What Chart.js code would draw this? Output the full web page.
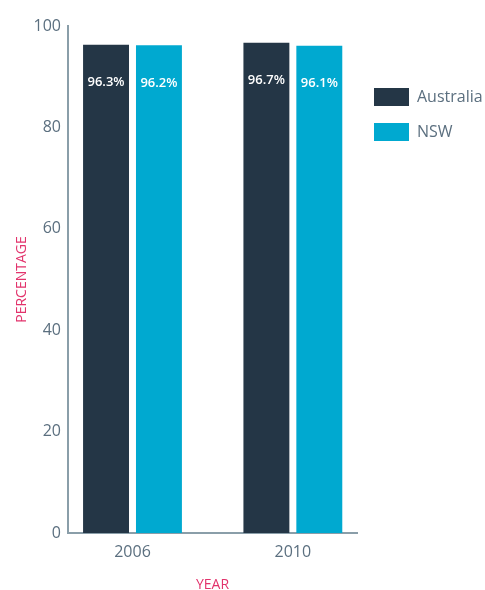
<!DOCTYPE html>
<html>
<head>
<meta charset="utf-8">
<script src="https://cdn.jsdelivr.net/npm/chart.js@4.4.1/dist/chart.umd.min.js"></script>
<style>
  html, body { margin: 0; padding: 0; background: #fff; }
</style>
</head>
<body>
<canvas id="chart" width="485" height="590"></canvas>
<script>
// ------------------------------------
// DATA
// ------------------------------------
const years = [2006, 2010];
const australia = [96.3, 96.7];
const nsw = [96.2, 96.1];
const seriesNames = ["Australia", "NSW"];

const darkBlue = "#243646";
const cyan = "#00a9d0";
const tickGrey = "#5b6f7f";
const axisGrey = "#8a9ea9";
const pink = "#e2336c";

// ------------------------------------
// WHITE VALUE LABELS INSIDE BARS
// ------------------------------------
const barText = {
    id: "barText",
    afterDatasetsDraw(chart) {
        const ctx = chart.ctx;
        ctx.save();
        ctx.font = '600 13px "Open Sans"';
        ctx.fillStyle = "#ffffff";
        ctx.textAlign = "center";
        ctx.textBaseline = "middle";
        chart.data.datasets.forEach((ds, i) => {
            chart.getDatasetMeta(i).data.forEach((bar, j) => {
                ctx.fillText(ds.data[j].y.toFixed(1) + "%", bar.x, bar.y + 38);
            });
        });
        ctx.restore();
    }
};

// ------------------------------------
// CHART
// ------------------------------------
const ctx = document.getElementById("chart").getContext("2d");

const chart = new Chart(ctx, {
    type: "bar",
    data: {
        datasets: [
            {
                label: seriesNames[0],
                data: years.map((yr, i) => ({ x: yr, y: australia[i] })),
                backgroundColor: darkBlue,
                borderWidth: 0
            },
            {
                label: seriesNames[1],
                data: years.map((yr, i) => ({ x: yr, y: nsw[i] })),
                backgroundColor: cyan,
                borderWidth: 0
            }
        ]
    },
    options: {
        responsive: false,
        animation: false,
        categoryPercentage: 0.66,
        barPercentage: 0.868,
        layout: { padding: { top: 26, left: 0, right: 0, bottom: 0 } },
        plugins: {
            tooltip: { enabled: false },
            legend: {
                position: "right",
                align: "start",
                maxWidth: 128,
                title: {
                    display: true,
                    text: "",
                    font: { size: 12, lineHeight: 1 },
                    padding: { top: 0, bottom: 33 }
                },
                labels: {
                    boxWidth: 35,
                    boxHeight: 18,
                    padding: 17,
                    color: tickGrey,
                    font: { family: "Open Sans", size: 16 }
                }
            }
        },
        scales: {
            x: {
                type: "linear",
                offset: false,
                min: 2004.39,
                max: 2011.6,
                afterBuildTicks: (scale) => {
                    scale.ticks = years.map(v => ({ value: v }));
                },
                grid: { display: false, drawTicks: false },
                border: { color: axisGrey, width: 2 },
                ticks: {
                    padding: 10,
                    color: tickGrey,
                    font: { family: "Open Sans", size: 16 },
                    callback: v => String(v)
                },
                title: {
                    display: true,
                    text: "YEAR",
                    color: pink,
                    font: { family: "Open Sans", size: 14, lineHeight: 1 },
                    padding: { top: 6.3, bottom: -2.5 }
                }
            },
            y: {
                min: 0,
                max: 100,
                grid: { display: false, drawTicks: false },
                border: { color: axisGrey, width: 2 },
                ticks: {
                    stepSize: 20,
                    padding: 7,
                    color: tickGrey,
                    font: { family: "Open Sans", size: 16 }
                },
                title: {
                    display: true,
                    text: "PERCENTAGE",
                    color: pink,
                    font: { family: "Open Sans", size: 14, lineHeight: 1 },
                    padding: { top: 15, bottom: -2.5 }
                }
            }
        }
    },
    plugins: [barText]
});
</script>
</body>
</html>
